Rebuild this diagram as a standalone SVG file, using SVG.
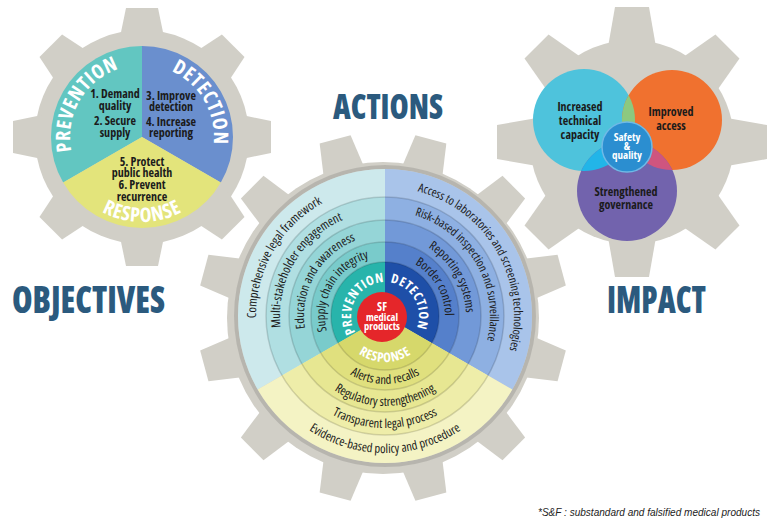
<svg xmlns="http://www.w3.org/2000/svg" width="770" height="525" viewBox="0 0 770 525">
<defs>
<style>
.gear{fill:#d1cfc7}
.cn{font-family:"Open Sans","Liberation Sans",sans-serif;font-stretch:75%}
.arc{font-size:12.5px;fill:#1b1b1b}
.lbl{font-weight:bold;fill:#fff}
.obj{font-size:12px;font-weight:bold;fill:#1b1b1b;text-anchor:middle}
.ttl{font-family:"Open Sans","Liberation Sans",sans-serif;font-stretch:75%;font-weight:800;fill:#2b5a7e}
.sep{fill:none;stroke:#000;stroke-opacity:.14;stroke-width:1.5}
</style>
<polygon id="tL" points="-22,-100 -16,-129 16,-129 22,-100"/>
<polygon id="tR" points="-24,-95 -17,-135 17,-135 24,-95"/>
<polygon id="tC" points="-21,-150 -16,-185 16,-185 21,-150"/>
<path id="lp" d="M79.65,173 A72,72 0 0 1 142,65"/>
<path id="ld" d="M142,65 A72,72 0 0 1 204.35,173"/>
<path id="lr" d="M68.39,179.5 A85,85 0 0 0 215.61,179.5"/>
<path id="c1p" d="M273.29,380.5 A129,129 0 0 1 385,187"/>
<path id="c1d" d="M385,187 A129,129 0 0 1 496.71,380.5"/>
<path id="c2p" d="M294.07,368.5 A105,105 0 0 1 385,211"/>
<path id="c2d" d="M385,211 A105,105 0 0 1 475.93,368.5"/>
<path id="c3p" d="M314.85,356.5 A81,81 0 0 1 385,235"/>
<path id="c3d" d="M385,235 A81,81 0 0 1 455.15,356.5"/>
<path id="c4p" d="M333.04,346 A60,60 0 0 1 385,256"/>
<path id="c4d" d="M385,256 A60,60 0 0 1 436.96,346"/>
<path id="c5p" d="M360.96,340.04 A34,34 0 0 1 393.80,283.16"/>
<path id="c5d" d="M376.20,283.16 A34,34 0 0 1 409.04,340.04"/>
<path id="r1" d="M266.36,384.5 A137,137 0 0 0 503.64,384.5"/>
<path id="r2" d="M288.01,372 A112,112 0 0 0 481.99,372"/>
<path id="r3" d="M307.06,361 A90,90 0 0 0 462.94,361"/>
<path id="r4" d="M326.11,350 A68,68 0 0 0 443.89,350"/>
<path id="r5" d="M340.56,327.91 A46,46 0 0 0 429.44,327.91"/>
<clipPath id="clipCyan"><circle cx="584" cy="120" r="51"/></clipPath>
<clipPath id="clipOrange"><circle cx="672" cy="120" r="50"/></clipPath>
</defs>

<rect width="770" height="525" fill="#fff"/>

<!-- Objectives gear -->
<g id="gear-objectives">
  <g class="gear" transform="translate(142,137)">
    <circle r="107"/>
    <use href="#tL"/>
    <use href="#tL" transform="rotate(45)"/>
    <use href="#tL" transform="rotate(90)"/>
    <use href="#tL" transform="rotate(135)"/>
    <use href="#tL" transform="rotate(180)"/>
    <use href="#tL" transform="rotate(225)"/>
    <use href="#tL" transform="rotate(270)"/>
    <use href="#tL" transform="rotate(315)"/>
  </g>
  <path d="M142,137 L63.19,182.5 A91,91 0 0 1 142,46 Z" fill="#62c6c1"/>
  <path d="M142,137 L142,46 A91,91 0 0 1 220.81,182.5 Z" fill="#6a8fce"/>
  <path d="M142,137 L220.81,182.5 A91,91 0 0 1 63.19,182.5 Z" fill="#e3e47b"/>
  <g class="cn lbl" font-size="20" letter-spacing="0.6">
    <text><textPath href="#lp" startOffset="50%" text-anchor="middle">PREVENTION</textPath></text>
    <text><textPath href="#ld" startOffset="50%" text-anchor="middle">DETECTION</textPath></text>
    <text><textPath href="#lr" startOffset="50%" text-anchor="middle">RESPONSE</textPath></text>
  </g>
  <g class="cn obj">
    <text x="115" y="98">1. Demand</text>
    <text x="115" y="110">quality</text>
    <text x="115" y="125">2. Secure</text>
    <text x="115" y="137">supply</text>
    <text x="171" y="100">3. Improve</text>
    <text x="171" y="111">detection</text>
    <text x="171" y="126">4. Increase</text>
    <text x="171" y="137">reporting</text>
    <text x="142" y="166">5. Protect</text>
    <text x="142" y="177">public health</text>
    <text x="142" y="189">6. Prevent</text>
    <text x="142" y="201">recurrence</text>
  </g>
</g>

<!-- Impact gear -->
<g id="gear-impact">
  <g class="gear" transform="translate(632,142)">
    <circle r="102"/>
    <use href="#tR"/>
    <use href="#tR" transform="rotate(45)"/>
    <use href="#tR" transform="rotate(90)"/>
    <use href="#tR" transform="rotate(135)"/>
    <use href="#tR" transform="rotate(180)"/>
    <use href="#tR" transform="rotate(225)"/>
    <use href="#tR" transform="rotate(270)"/>
    <use href="#tR" transform="rotate(315)"/>
  </g>
  <circle cx="584" cy="120" r="51" fill="#4ec3dc"/>
  <circle cx="672" cy="120" r="50" fill="#f0712f"/>
  <circle cx="627" cy="191" r="50" fill="#7263ad"/>
  <circle cx="672" cy="120" r="50" fill="#8cc97f" clip-path="url(#clipCyan)"/>
  <circle cx="627" cy="191" r="50" fill="#22b5e8" clip-path="url(#clipCyan)"/>
  <circle cx="627" cy="191" r="50" fill="#cf557f" clip-path="url(#clipOrange)"/>
  <circle cx="627" cy="147" r="25" fill="#2b8ed0" stroke="#6fb9e6" stroke-width="1.5"/>
  <g class="cn obj" font-size="12.5">
    <text x="580" y="111">Increased</text>
    <text x="580" y="125">technical</text>
    <text x="580" y="139">capacity</text>
    <text x="671" y="116">Improved</text>
    <text x="671" y="130">access</text>
    <text x="626" y="196">Strengthened</text>
    <text x="626" y="209">governance</text>
  </g>
  <g class="cn" font-size="11" font-weight="bold" fill="#fff" text-anchor="middle">
    <text x="627" y="141">Safety</text>
    <text x="627" y="150">&amp;</text>
    <text x="627" y="159">quality</text>
  </g>
</g>

<!-- Actions gear -->
<g id="gear-actions">
  <g class="gear" transform="translate(383,318)">
    <circle r="156"/>
    <use href="#tC" transform="rotate(15)"/>
    <use href="#tC" transform="rotate(45)"/>
    <use href="#tC" transform="rotate(75)"/>
    <use href="#tC" transform="rotate(105)"/>
    <use href="#tC" transform="rotate(135)"/>
    <use href="#tC" transform="rotate(165)"/>
    <use href="#tC" transform="rotate(195)"/>
    <use href="#tC" transform="rotate(225)"/>
    <use href="#tC" transform="rotate(255)"/>
    <use href="#tC" transform="rotate(285)"/>
    <use href="#tC" transform="rotate(315)"/>
    <use href="#tC" transform="rotate(345)"/>
  </g>
  <circle cx="385" cy="316" r="149" fill="none" stroke="#000" stroke-opacity=".12" stroke-width="4"/>
  <path d="M385,316 L257.70,389.5 A147,147 0 0 1 385,169 Z" fill="#cde9ec"/>
  <path d="M385,316 L385,169 A147,147 0 0 1 512.30,389.5 Z" fill="#a9c4ea"/>
  <path d="M385,316 L512.30,389.5 A147,147 0 0 1 257.70,389.5 Z" fill="#f4f3c4"/>
  <path d="M385,316 L281.95,375.5 A119,119 0 0 1 385,197 Z" fill="#b0dfe2"/>
  <path d="M385,316 L385,197 A119,119 0 0 1 488.05,375.5 Z" fill="#8eb0e2"/>
  <path d="M385,316 L488.05,375.5 A119,119 0 0 1 281.95,375.5 Z" fill="#eeeda9"/>
  <path d="M385,316 L301.86,364 A96,96 0 0 1 385,220 Z" fill="#95d5d7"/>
  <path d="M385,316 L385,220 A96,96 0 0 1 468.14,364 Z" fill="#7299d8"/>
  <path d="M385,316 L468.14,364 A96,96 0 0 1 301.86,364 Z" fill="#e7e792"/>
  <path d="M385,316 L320.91,353 A74,74 0 0 1 385,242 Z" fill="#79cbcb"/>
  <path d="M385,316 L385,242 A74,74 0 0 1 449.09,353 Z" fill="#5580cb"/>
  <path d="M385,316 L449.09,353 A74,74 0 0 1 320.91,353 Z" fill="#e0e07e"/>
  <path d="M385,316 L338.23,343 A54,54 0 0 1 385,262 Z" fill="#28b4ab"/>
  <path d="M385,316 L385,262 A54,54 0 0 1 431.77,343 Z" fill="#1e4fa8"/>
  <path d="M385,316 L431.77,343 A54,54 0 0 1 338.23,343 Z" fill="#d6d86b"/>
  <circle class="sep" cx="385" cy="316" r="119"/>
  <circle class="sep" cx="385" cy="316" r="96"/>
  <circle class="sep" cx="385" cy="316" r="74"/>
  <circle class="sep" cx="385" cy="316" r="54"/>
  <g class="cn arc">
    <text><textPath href="#c1p" startOffset="50%" text-anchor="middle">Comprehensive legal framework</textPath></text>
    <text><textPath href="#c2p" startOffset="50%" text-anchor="middle">Multi-stakeholder engagement</textPath></text>
    <text><textPath href="#c3p" startOffset="50%" text-anchor="middle">Education and awareness</textPath></text>
    <text><textPath href="#c4p" startOffset="50%" text-anchor="middle">Supply chain integrity</textPath></text>
    <text font-size="12"><textPath href="#c1d" startOffset="50%" text-anchor="middle">Access to laboratories and screening technologies</textPath></text>
    <text font-size="12"><textPath href="#c2d" startOffset="50%" text-anchor="middle">Risk-based inspection and surveillance</textPath></text>
    <text><textPath href="#c3d" startOffset="50%" text-anchor="middle">Reporting systems</textPath></text>
    <text><textPath href="#c4d" startOffset="50%" text-anchor="middle">Border control</textPath></text>
    <text><textPath href="#r1" startOffset="50%" text-anchor="middle">Evidence-based policy and procedure</textPath></text>
    <text><textPath href="#r2" startOffset="50%" text-anchor="middle">Transparent legal process</textPath></text>
    <text><textPath href="#r3" startOffset="50%" text-anchor="middle">Regulatory strengthening</textPath></text>
    <text><textPath href="#r4" startOffset="50%" text-anchor="middle">Alerts and recalls</textPath></text>
  </g>
  <g class="cn lbl" font-size="13" letter-spacing="0.6">
    <text><textPath href="#c5p" startOffset="50%" text-anchor="middle">PREVENTION</textPath></text>
    <text><textPath href="#c5d" startOffset="50%" text-anchor="middle">DETECTION</textPath></text>
    <text><textPath href="#r5" startOffset="50%" text-anchor="middle">RESPONSE</textPath></text>
  </g>
  <circle cx="382" cy="317" r="25" fill="#e5262a"/>
  <g class="cn" font-size="10.5" font-weight="bold" fill="#fff" text-anchor="middle">
    <text x="382" y="311" font-size="11.5">SF</text>
    <text x="382" y="320.5">medical</text>
    <text x="382" y="330">products</text>
  </g>
</g>

<g id="connectors"/>

<g id="titles">
  <text class="ttl" x="12" y="313" font-size="37" textLength="153" lengthAdjust="spacingAndGlyphs">OBJECTIVES</text>
  <text class="ttl" x="333" y="119" font-size="36" textLength="110" lengthAdjust="spacingAndGlyphs">ACTIONS</text>
  <text class="ttl" x="607" y="313" font-size="37" textLength="99" lengthAdjust="spacingAndGlyphs">IMPACT</text>
</g>

<text x="538" y="516" font-family="Liberation Sans,Arial,sans-serif" font-style="italic" font-size="10" fill="#222" textLength="222" lengthAdjust="spacingAndGlyphs">*S&amp;F : substandard and falsified medical products</text>
</svg>
